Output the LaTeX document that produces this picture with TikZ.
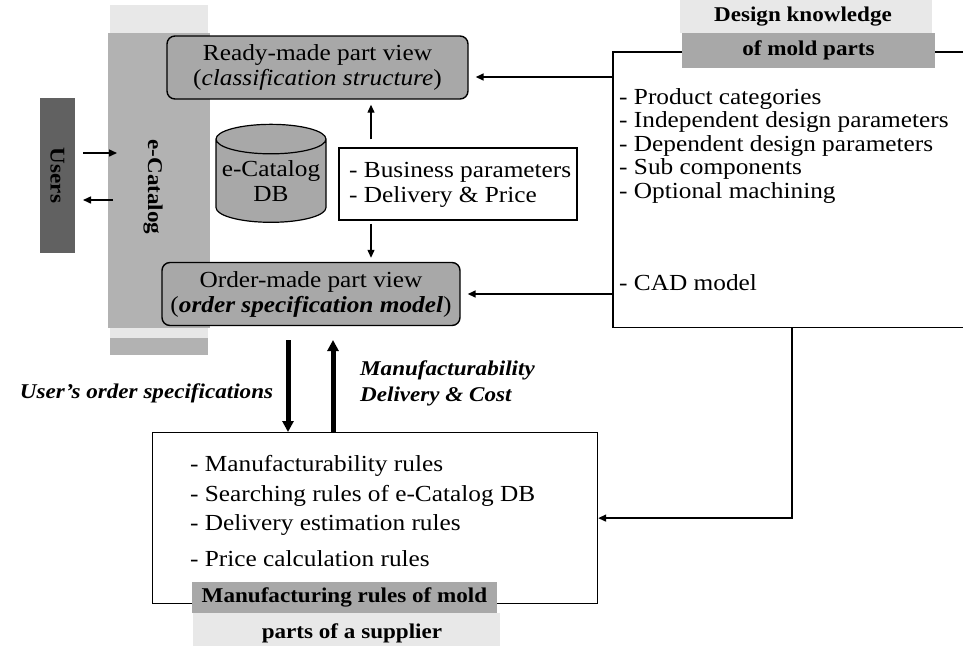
\documentclass[tikz,border=0pt]{standalone}
\usepackage{fontspec}
\setmainfont{Liberation Serif}[FakeStretch=1.1]
\usetikzlibrary{arrows.meta,positioning,shapes.geometric}
\definecolor{bandc}{gray}{0.70}
\definecolor{boxc}{gray}{0.66}
\definecolor{userc}{gray}{0.38}
\definecolor{specc}{gray}{0.91}
\tikzset{
  ar/.style={-{Triangle[length=8pt,width=7pt]},line width=1.5pt},
  far/.style={-{Triangle[length=11pt,width=11pt]},line width=5pt},
  vw/.style={rounded corners=8pt,draw,line width=1.4pt,fill=boxc,align=center,minimum height=63pt,inner sep=0pt},
  frm/.style={draw,line width=1.2pt,inner sep=0pt,anchor=north west},
  lst/.style={align=left,anchor=north west,inner sep=0pt},
  ttl/.style={fill=boxc,inner sep=0pt,font=\fontsize{21}{24}\selectfont\bfseries}
}
\begin{document}
\fontsize{23}{25}\selectfont
\begin{tikzpicture}[x=1pt,y=-1pt]
\useasboundingbox (0,0) rectangle (963,646);
% e-Catalog band
\fill[specc] (110,5) rectangle (208,33);
\fill[bandc] (108,33) rectangle (210,328);
\fill[specc] (110,328) rectangle (208,338);
\fill[bandc] (110,338) rectangle (208,355);
\node[rotate=-90,font=\fontsize{21}{24}\selectfont\bfseries] (cat) at (153,187) {e-Catalog};
\node[fill=userc,rotate=-90,minimum width=155pt,minimum height=35pt,inner sep=0pt,font=\fontsize{21}{24}\selectfont\bfseries] (usr) at (57.5,175.5) {Users};
\coordinate (ua) at (83,153);
\coordinate (ub) at (113,200);
\draw[ar] (ua) -- ++(34,0);
\draw[ar] (ub) -- ++(-30,0);
% views
\node[vw,minimum width=301pt] (rdy) at (317.5,67.5) {Ready-made part view\\(\textit{classification structure})};
\node[vw,minimum width=298pt] (ord) at (311,294) {Order-made part view\\(\textbf{\textit{order specification model}})};
\node[cylinder,shape border rotate=90,draw,line width=1.2pt,fill=boxc,aspect=0.3,minimum width=110pt,minimum height=98pt,inner sep=0pt,align=center] (db) at (271,181) {e-Catalog\\DB};
\node[draw,line width=1.2pt,minimum width=238pt,minimum height=72pt,inner sep=0pt] (bus) at (458,184) {};
\node[lst,anchor=west] (busl) at (349,185) {- Business parameters\\- Delivery \& Price};
\coordinate (ax) at (371,0);
\draw[ar,line width=1.2pt,shorten <=8pt,shorten >=5pt] (ax |- bus.north) -- (ax |- rdy.south);
\draw[ar,line width=1.2pt,shorten <=3pt,shorten >=4pt] (ax |- bus.south) -- (ax |- ord.north);
% design knowledge
\node[minimum width=350pt,minimum height=275pt,inner sep=0pt,anchor=north west] (dkb) at (613,52) {};
\draw[line width=1.2pt] (dkb.north east) -- (dkb.north west) -- (dkb.south west) -- (dkb.south east);
\fill[specc] (680,0) rectangle (932,33);
\node[ttl,minimum width=253pt,minimum height=35pt] (dkt) at (808.5,50.5) {of mold parts};
\node[font=\fontsize{21}{24}\selectfont\bfseries] (dkh) at (803,17) {Design knowledge};
\node[lst,font=\fontsize{23}{23.5}\selectfont] (dkl) at (619,88) {- Product categories\\- Independent design parameters\\- Dependent design parameters\\- Sub components\\- Optional machining};
\node[lst,anchor=west] (cad) at (619,283) {- CAD model};
\coordinate (k1) at (0,77);
\draw[ar,shorten >=7pt] (dkb.west |- k1) -- (rdy.east |- k1);
\draw[ar,shorten >=7pt] (dkb.west |- ord.east) -- (ord.east);
% supplier rules
\node[frm,minimum width=445pt,minimum height=171pt] (mfg) at (152,432) {};
\node[lst,font=\fontsize{23}{24}\selectfont] (mfgl) at (190,455) {- Manufacturability rules\\[6pt]- Searching rules of e-Catalog DB\\[5pt]- Delivery estimation rules\\[12pt]- Price calculation rules};
\fill[specc] (193,613) rectangle (500,646);
\node[ttl,minimum width=305pt,minimum height=31pt] (mft) at (344.5,597.5) {Manufacturing rules of mold};
\node[font=\fontsize{21}{24}\selectfont\bfseries] (mfs) at (352,633) {parts of a supplier};
\coordinate (kb) at (792,0);
\draw[ar] (kb |- dkb.south) |- (mfg.east);
% order flow
\coordinate (t1) at (288,340);
\coordinate (t2) at (333,340);
\draw[far] (t1) -- (t1 |- mfg.north);
\draw[far] (t2 |- mfg.north) -- (t2);
\node[anchor=east,font=\fontsize{21}{24}\selectfont\bfseries\itshape] (uos) at (281,393) {User’s order specifications};
\node[lst,anchor=west,font=\fontsize{21}{26}\selectfont\bfseries\itshape] (mdc) at (360,383) {Manufacturability\\Delivery \& Cost};
\end{tikzpicture}
\end{document}
